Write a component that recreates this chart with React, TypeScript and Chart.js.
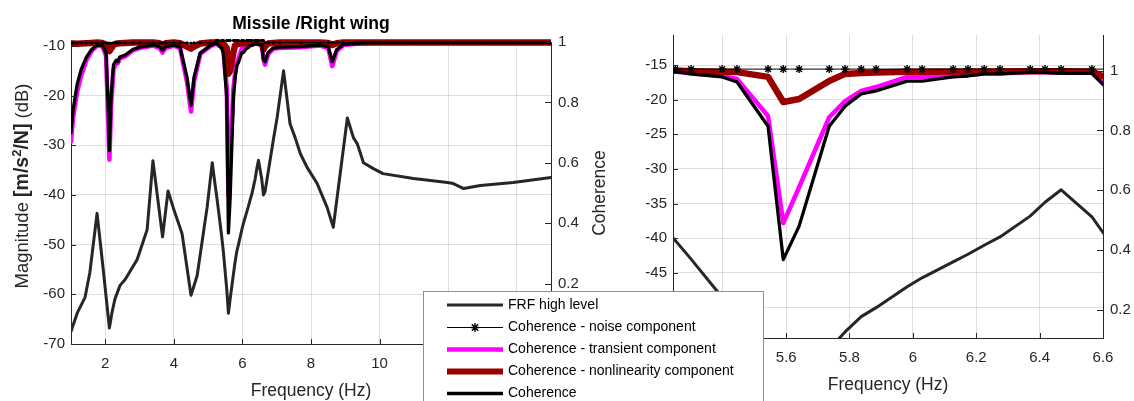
import { useEffect, useRef } from 'react';
import { Chart, registerables } from 'chart.js';

Chart.register(...registerables);

const W = 1134;
const H = 401;
const FONT = '"Liberation Sans", Arial, Helvetica, sans-serif';
const AXIS = '#262626';

// ---------- FRF high level (dB) ----------
const frfFreq = [
  1.0, 1.18, 1.41, 1.55, 1.76, 1.94, 2.12, 2.2, 2.28, 2.43, 2.58, 2.93, 3.22, 3.39, 3.67, 3.83, 3.98, 4.24, 4.5, 4.68,
  4.97, 5.12, 5.2, 5.25, 5.3, 5.398, 5.445, 5.543, 5.591, 5.641, 5.736, 5.786, 5.837, 5.884, 5.982, 6.029, 6.127, 6.174,
  6.225, 6.275, 6.37, 6.417, 6.468, 6.565, 6.613, 6.66, 6.9, 7.01, 7.2, 7.39, 7.54, 7.69, 7.89, 8.18, 8.47, 8.65, 9.06,
  9.24, 9.35, 9.53, 9.82, 10.1, 10.99, 11.98, 12.15, 12.45, 12.94, 13.9, 15.0,
];
const frfDb = [
  -67.5, -63.8, -60.6, -55.6, -43.7, -55.0, -66.8, -63.5, -61.0, -58.2, -57.0, -53.0, -47.0, -33.1, -48.4, -39.2, -42.5,
  -47.8, -60.2, -56.2, -42.5, -33.5, -37.8, -40.3, -43.0, -48.5, -51.5, -59.0, -63.8, -61.0, -56.0, -53.5, -51.3, -50.0,
  -47.0, -45.7, -43.4, -42.3, -41.0, -39.8, -36.8, -34.8, -33.0, -36.9, -40.0, -39.3, -29.0, -24.5, -15.0, -25.7, -28.5,
  -31.7, -34.5, -37.7, -42.5, -46.5, -24.5, -28.5, -29.7, -33.5, -34.7, -35.7, -36.7, -37.5, -37.7, -38.7, -38.1, -37.5,
  -36.5,
];

// ---------- Coherence series ----------
const cohFreq = [
  1.0, 1.06, 1.18, 1.3, 1.45, 1.6, 1.76, 1.92, 2.02, 2.08, 2.12, 2.17, 2.24, 2.32, 2.37, 2.42, 2.58, 2.8, 3.0, 3.4, 3.58,
  3.67, 3.76, 4.0, 4.18, 4.38, 4.5, 4.59, 4.77, 5.06, 5.2,
  5.25, 5.3, 5.398, 5.445, 5.543, 5.591, 5.641, 5.736, 5.786, 5.837, 5.884, 5.982, 6.029, 6.127, 6.174, 6.225, 6.275,
  6.37, 6.417, 6.468, 6.565, 6.613,
  6.66, 6.75, 6.9, 7.1, 7.7, 8.27, 8.5, 8.62, 8.75, 8.95, 9.5, 10.0, 11.0, 12.0, 13.0, 14.0, 15.0,
];
const cohTotal = [
  0.7, 0.775, 0.86, 0.91, 0.95, 0.975, 0.99, 0.988, 0.965, 0.8, 0.64, 0.82, 0.925, 0.94, 0.935, 0.95, 0.957, 0.975,
  0.983, 0.99, 0.985, 0.972, 0.985, 0.99, 0.983, 0.884, 0.79, 0.884, 0.964, 0.988, 0.995,
  0.997, 0.989, 0.979, 0.962, 0.814, 0.368, 0.48, 0.814, 0.881, 0.922, 0.932, 0.965, 0.965, 0.979, 0.982, 0.989, 0.989,
  0.995, 0.994, 0.991, 0.991, 0.94,
  0.935, 0.965, 0.98, 0.983, 0.985, 0.99, 0.985, 0.935, 0.975, 0.992, 0.997, 0.998, 0.998, 0.998, 0.998, 0.998, 0.998,
];
const cohTransient = [
  0.67, 0.75, 0.835, 0.89, 0.94, 0.97, 0.988, 0.985, 0.955, 0.76, 0.61, 0.79, 0.91, 0.93, 0.93, 0.945, 0.952, 0.972,
  0.98, 0.988, 0.98, 0.965, 0.98, 0.988, 0.98, 0.87, 0.77, 0.87, 0.96, 0.985, 0.993,
  0.997, 0.99, 0.982, 0.972, 0.848, 0.49, 0.61, 0.844, 0.898, 0.932, 0.945, 0.979, 0.979, 0.982, 0.985, 0.99, 0.99,
  0.995, 0.995, 0.993, 0.993, 0.945,
  0.925, 0.96, 0.978, 0.98, 0.983, 0.988, 0.98, 0.92, 0.97, 0.99, 0.996, 0.998, 0.998, 0.998, 0.998, 0.998, 0.998,
];
const cohNonlin = [
  0.995, 0.995, 0.994, 0.995, 0.996, 0.997, 0.998, 0.997, 0.99, 0.978, 0.97, 0.978, 0.99, 0.995, 0.995, 0.996, 0.997,
  0.998, 0.998, 0.998, 0.996, 0.99, 0.996, 0.998, 0.996, 0.985, 0.978, 0.985, 0.995, 0.998, 0.998,
  1.0, 0.998, 0.996, 0.995, 0.979, 0.895, 0.905, 0.965, 0.989, 0.992, 0.994, 0.996, 0.996, 0.997, 0.997, 0.997, 0.997,
  0.998, 0.998, 0.998, 0.997, 0.975,
  0.985, 0.995, 0.997, 0.998, 0.998, 0.998, 0.997, 0.99, 0.996, 0.998, 0.998, 0.998, 0.998, 0.998, 0.998, 0.998, 0.998,
];
const cohNoise = [
  0.997, 0.997, 0.997, 0.997, 0.997, 0.997, 0.997, 0.997, 0.997, 0.996, 0.996, 0.996, 0.997, 0.997, 0.997, 0.997, 0.997,
  0.997, 0.997, 0.997, 0.997, 0.997, 0.997, 0.997, 0.997, 0.997, 0.996, 0.997, 0.997, 0.997, 0.998,
  1.005, 1.005, 1.005, 1.005, 1.005, 1.005, 1.005, 1.005, 1.005, 1.005, 1.005, 1.005, 1.005, 1.005, 1.005, 1.005, 1.005,
  1.005, 1.005, 1.005, 1.005, 1.005,
  0.998, 0.998, 0.998, 0.998, 0.998, 0.998, 0.998, 0.998, 0.998, 0.998, 0.998, 0.998, 0.998, 0.998, 0.998, 0.998, 0.998,
];

// ---------- Ticks ----------
const fullXTicks = [2, 4, 6, 8, 10, 12, 14];
const fullDbTicks = [-70, -60, -50, -40, -30, -20, -10];
const fullCohTicks = [0, 0.2, 0.4, 0.6, 0.8, 1];
const zoomXTicks = [5.4, 5.6, 5.8, 6, 6.2, 6.4, 6.6];
const zoomDbTicks = [-50, -45, -40, -35, -30, -25, -20, -15];
const zoomCohTicks = [0.2, 0.4, 0.6, 0.8, 1];

const chartTitle = 'Missile /Right wing';
const xTitle = 'Frequency (Hz)';
const cohTitle = 'Coherence';
const legendLabels = [
  'FRF high level',
  'Coherence - noise component',
  'Coherence - transient component',
  'Coherence - nonlinearity component',
  'Coherence',
];

type Panel = {
  area: { l: number; r: number; t: number; b: number };
  xRange: number[];
  dbRange: number[];
  cohRange: number[];
  xTicks: number[];
  dbTicks: number[];
  cohTicks: number[];
  title: boolean;
  yTitle: boolean;
  cohTitle: boolean;
  xTitleBase: number;
  marker: number;
  legend: boolean;
};

const fullPanel: Panel = {
  area: { l: 71, r: 551, t: 42, b: 344 },
  xRange: [1, 15],
  dbRange: [-70, -9.2],
  cohRange: [0, 1],
  xTicks: fullXTicks,
  dbTicks: fullDbTicks,
  cohTicks: fullCohTicks,
  title: true,
  yTitle: true,
  cohTitle: true,
  xTitleBase: 396,
  marker: 1.5,
  legend: false,
};

const zoomPanel: Panel = {
  area: { l: 673, r: 1103, t: 35, b: 338 },
  xRange: [5.243, 6.6],
  dbRange: [-54.38, -10.67],
  cohRange: [0.106, 1.119],
  xTicks: zoomXTicks,
  dbTicks: zoomDbTicks,
  cohTicks: zoomCohTicks,
  title: false,
  yTitle: false,
  cohTitle: false,
  xTitleBase: 390,
  marker: 4,
  legend: true,
};

const pts = (xs: number[], ys: number[]) => xs.map((x, i) => ({ x, y: ys[i] }));
const fmt = (v: number) => String(Math.round(Number(v) * 1000) / 1000);

function drawStar(ctx: CanvasRenderingContext2D, x: number, y: number, r: number) {
  const d = r * Math.SQRT1_2;
  ctx.beginPath();
  ctx.moveTo(x - r, y);
  ctx.lineTo(x + r, y);
  ctx.moveTo(x, y - r);
  ctx.lineTo(x, y + r);
  ctx.moveTo(x - d, y - d);
  ctx.lineTo(x + d, y + d);
  ctx.moveTo(x - d, y + d);
  ctx.lineTo(x + d, y - d);
  ctx.stroke();
}

function drawLegend(ctx: CanvasRenderingContext2D) {
  const x0 = 423.5;
  const y0 = 291.5;
  ctx.save();
  ctx.fillStyle = '#ffffff';
  ctx.fillRect(x0, y0, 340, 130);
  ctx.strokeStyle = '#8f8f8f';
  ctx.lineWidth = 1;
  ctx.strokeRect(x0, y0, 340, 130);
  const rows = [305, 327.5, 349.5, 371.5, 393.5];
  const styles = [
    { c: AXIS, w: 3 },
    { c: '#000000', w: 1 },
    { c: '#ff00ff', w: 4.5 },
    { c: '#990000', w: 6 },
    { c: '#000000', w: 3.3 },
  ];
  rows.forEach((y, i) => {
    ctx.strokeStyle = styles[i].c;
    ctx.lineWidth = styles[i].w;
    ctx.lineCap = 'butt';
    ctx.beginPath();
    ctx.moveTo(447, y);
    ctx.lineTo(503, y);
    ctx.stroke();
    if (i === 1) {
      ctx.lineWidth = 1.4;
      drawStar(ctx, 475, y, 4.5);
    }
    ctx.fillStyle = '#000000';
    ctx.font = `14px ${FONT}`;
    ctx.textBaseline = 'middle';
    ctx.textAlign = 'left';
    ctx.fillText(legendLabels[i], 508, y);
  });
  ctx.restore();
}

function drawMagnitudeLabel(ctx: CanvasRenderingContext2D, cx: number, cy: number) {
  const segs = [
    { t: 'Magnitude ', f: `18.5px ${FONT}`, dy: 0 },
    { t: '[m/s', f: `bold 19.5px ${FONT}`, dy: 0 },
    { t: '2', f: `bold 13px ${FONT}`, dy: -7.5 },
    { t: '/N]', f: `bold 19.5px ${FONT}`, dy: 0 },
    { t: ' (dB)', f: `18.5px ${FONT}`, dy: 0 },
  ];
  let total = 0;
  const widths = segs.map((s) => {
    ctx.font = s.f;
    const w = ctx.measureText(s.t).width;
    total += w;
    return w;
  });
  ctx.save();
  ctx.translate(cx, cy);
  ctx.rotate(-Math.PI / 2);
  ctx.fillStyle = AXIS;
  ctx.textAlign = 'left';
  ctx.textBaseline = 'alphabetic';
  let x = -total / 2;
  segs.forEach((s, i) => {
    ctx.font = s.f;
    ctx.fillText(s.t, x, 6.6 + s.dy);
    x += widths[i];
  });
  ctx.restore();
}

function makeConfig(p: Panel): any {
  const decor = {
    id: 'decor',
    afterDraw(chart: any) {
      const ctx: CanvasRenderingContext2D = chart.ctx;
      const { left, right, top, bottom } = chart.chartArea;
      const xs = chart.scales.x;
      const yl = chart.scales.yL;
      const yr = chart.scales.yR;
      ctx.save();
      ctx.strokeStyle = AXIS;
      ctx.lineWidth = 1;
      ctx.beginPath();
      p.xTicks.forEach((v) => {
        const px = Math.round(xs.getPixelForValue(v)) + 0.5;
        ctx.moveTo(px, bottom);
        ctx.lineTo(px, bottom - 5);
      });
      p.dbTicks.forEach((v) => {
        const py = Math.round(yl.getPixelForValue(v)) + 0.5;
        if (py < top - 1 || py > bottom + 1) return;
        ctx.moveTo(left, py);
        ctx.lineTo(left + 5, py);
      });
      p.cohTicks.forEach((v) => {
        const py = Math.round(yr.getPixelForValue(v)) + 0.5;
        if (py < top - 1 || py > bottom + 1) return;
        ctx.moveTo(right, py);
        ctx.lineTo(right - 6, py);
      });
      ctx.stroke();

      const cx = (left + right) / 2;
      ctx.textAlign = 'center';
      ctx.textBaseline = 'alphabetic';
      if (p.title) {
        ctx.fillStyle = '#000000';
        ctx.font = `bold 17.5px ${FONT}`;
        ctx.fillText(chartTitle, cx, 29);
      }
      ctx.fillStyle = AXIS;
      ctx.font = `17.5px ${FONT}`;
      ctx.fillText(xTitle, cx, p.xTitleBase);
      if (p.cohTitle) {
        ctx.save();
        ctx.translate(600, (top + bottom) / 2);
        ctx.rotate(-Math.PI / 2);
        ctx.textBaseline = 'middle';
        ctx.fillText(cohTitle, 0, 0);
        ctx.restore();
      }
      ctx.restore();
      if (p.yTitle) drawMagnitudeLabel(ctx, 21.5, 186);
      if (p.legend) drawLegend(ctx);
    },
  };

  const tickFont = { family: FONT, size: 15 };
  const gridColor = 'rgba(38,38,38,0.15)';
  const clip = { left: 0, right: 0, top: 4, bottom: 0 };

  return {
    type: 'line',
    data: {
      datasets: [
        {
          label: legendLabels[1],
          data: pts(cohFreq, cohNoise),
          yAxisID: 'yR',
          borderColor: '#000000',
          borderWidth: 1,
          pointStyle: 'star',
          pointRadius: p.marker,
          pointBorderColor: '#000000',
          pointBorderWidth: 1.4,
          pointBackgroundColor: '#000000',
          order: 0,
          clip,
        },
        {
          label: legendLabels[4],
          data: pts(cohFreq, cohTotal),
          yAxisID: 'yR',
          borderColor: '#000000',
          borderWidth: 3.3,
          pointRadius: 0,
          order: 1,
          clip,
        },
        {
          label: legendLabels[3],
          data: pts(cohFreq, cohNonlin),
          yAxisID: 'yR',
          borderColor: '#990000',
          borderWidth: 6.5,
          pointRadius: 0,
          order: 2,
          clip,
        },
        {
          label: legendLabels[2],
          data: pts(cohFreq, cohTransient),
          yAxisID: 'yR',
          borderColor: '#ff00ff',
          borderWidth: 4.5,
          pointRadius: 0,
          order: 3,
          clip,
        },
        {
          label: legendLabels[0],
          data: pts(frfFreq, frfDb),
          yAxisID: 'yL',
          borderColor: AXIS,
          borderWidth: 3,
          pointRadius: 0,
          order: 4,
          clip,
        },
      ],
    },
    options: {
      responsive: false,
      animation: false,
      events: [],
      layout: { padding: { top: p.area.t, left: 0, right: 0, bottom: 0 } },
      elements: { line: { tension: 0, borderJoinStyle: 'round', borderCapStyle: 'round' } },
      plugins: { legend: { display: false }, tooltip: { enabled: false }, title: { display: false } },
      scales: {
        x: {
          type: 'linear',
          position: 'bottom',
          min: p.xRange[0],
          max: p.xRange[1],
          afterBuildTicks: (s: any) => {
            s.ticks = p.xTicks.map((v) => ({ value: v }));
          },
          afterFit: (s: any) => {
            s.height = H - p.area.b;
          },
          ticks: { font: tickFont, color: AXIS, padding: 11, maxRotation: 0, autoSkip: false, callback: fmt },
          grid: { color: gridColor, drawTicks: false, lineWidth: 1 },
          border: { display: true, color: AXIS, width: 1 },
        },
        yL: {
          type: 'linear',
          position: 'left',
          min: p.dbRange[0],
          max: p.dbRange[1],
          afterBuildTicks: (s: any) => {
            s.ticks = p.dbTicks.map((v) => ({ value: v }));
          },
          afterFit: (s: any) => {
            s.width = p.area.l;
          },
          ticks: { font: tickFont, color: AXIS, padding: 6, autoSkip: false, callback: fmt },
          grid: { color: gridColor, drawTicks: false, lineWidth: 1 },
          border: { display: true, color: AXIS, width: 1 },
        },
        yR: {
          type: 'linear',
          position: 'right',
          min: p.cohRange[0],
          max: p.cohRange[1],
          afterBuildTicks: (s: any) => {
            s.ticks = p.cohTicks.map((v) => ({ value: v }));
          },
          afterFit: (s: any) => {
            s.width = W - p.area.r;
          },
          ticks: { font: tickFont, color: AXIS, padding: 7, autoSkip: false, callback: fmt },
          grid: { display: false, drawOnChartArea: false, drawTicks: false },
          border: { display: true, color: AXIS, width: 1 },
        },
      },
    },
    plugins: [decor],
  };
}

export default function App() {
  const leftRef = useRef<HTMLCanvasElement>(null);
  const rightRef = useRef<HTMLCanvasElement>(null);

  useEffect(() => {
    const c1 = new Chart(leftRef.current as HTMLCanvasElement, makeConfig(fullPanel));
    const c2 = new Chart(rightRef.current as HTMLCanvasElement, makeConfig(zoomPanel));
    return () => {
      c1.destroy();
      c2.destroy();
    };
  }, []);

  const cstyle: any = { position: 'absolute', left: 0, top: 0, width: W, height: H };
  return (
    <div style={{ position: 'fixed', left: 0, top: 0, width: W, height: H, background: '#ffffff', overflow: 'hidden' }}>
      <canvas ref={leftRef} width={W} height={H} style={cstyle} />
      <canvas ref={rightRef} width={W} height={H} style={cstyle} />
    </div>
  );
}
